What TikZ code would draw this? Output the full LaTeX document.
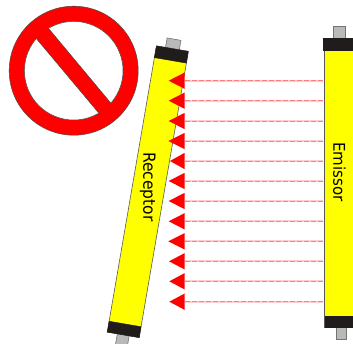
\documentclass[tikz,border=0pt]{standalone}
\usepackage{fontspec}
\setmainfont{DejaVu Sans}
\definecolor{bodyyellow}{RGB}{255,255,0}
\definecolor{capblack}{RGB}{32,28,28}
\definecolor{plug}{RGB}{185,185,185}
\definecolor{beamdash}{RGB}{255,125,125}
\definecolor{beampale}{RGB}{255,205,205}
\tikzset{
  housing/.style={fill=bodyyellow,draw=black!65,line width=0.6pt},
  capend/.style={fill=capblack,draw=capblack,line width=0.4pt},
  plugend/.style={fill=plug,draw=black!55,line width=0.6pt},
  beamglow/.style={draw=beampale,line width=1.8pt},
  beam/.style={draw=beamdash,line width=0.9pt,dash pattern=on 5pt off 2pt},
  beamhead/.style={fill=red,draw=none},
  devlabel/.style={font=\fontsize{15}{15}\selectfont,text=black,inner sep=0pt},
  signred/.style={fill=red,draw=black!70,line width=0.5pt},
  signhole/.style={fill=white,draw=black!70,line width=0.5pt},
  signedge/.style={draw=black!70,line width=0.5pt}
}
\begin{document}
\begin{tikzpicture}[x=1pt,y=-1pt]
\useasboundingbox (0,0) rectangle (353,344);
\clip (0,0) rectangle (353,344);
\fill[white] (0,0) rectangle (353,344);
% prohibition sign
\begin{scope}[shift={(73.7,70.7)}]
  \path[signred] (0,0) circle (64.5pt);
  \path[signhole] (0,0) circle (49.3pt);
  \fill[red] (-41,-36.5) -- (-28.7,-46.5) -- (41.3,37.4) -- (29.3,47.4) -- cycle;
  \draw[signedge] (-37,-31.7) -- (25.3,42.6);
  \draw[signedge] (-24.7,-41.7) -- (37.3,32.6);
\end{scope}
% receptor
\begin{scope}[shift={(172,51)},rotate=-9.75]
  \draw[plugend] (-7,-12) rectangle (7,0);
  \draw[plugend] (-6,282) rectangle (6,305);
  \draw[housing] (-16.2,0) rectangle (16.2,288);
  \fill[capend] (-16.2,-2.5) rectangle (16.2,9.5);
  \fill[capend] (-16.2,277) rectangle (16.2,288);
  \node[devlabel,rotate=-90,yscale=1.08] (rx) at (-1,138) {\fontsize{15.5}{15.5}\selectfont Receptor};
\end{scope}
% beams
\foreach \yy/\tip in {80.7/168.7,100.7/168.7,121/168.7,141/168.3,161/170,181/168.7,201/168.7,221.3/168.7,241.3/168.3,261.3/169,281.3/169.3,301.7/169.3}{
  \coordinate (src) at (323,\yy);
  \coordinate (base) at (184.7,\yy);
  \coordinate (tipc) at (\tip,\yy);
  \draw[beamglow] (src) -- (base);
  \draw[beam] (src) -- (base);
  \fill[beamhead] (tipc) -- (184.7,\yy-8.2) -- (184.7,\yy+8.2) -- cycle;
}
% emissor
\draw[plugend] (333.5,26.5) rectangle (345,39);
\draw[plugend] (335.8,326) rectangle (346,339);
\draw[housing] (324,38.5) rectangle (360,327);
\fill[capend] (323.2,38.5) rectangle (360,50);
\fill[capend] (325.5,316) rectangle (360,327);
\node[devlabel,rotate=-90,yscale=1.08] (tx) at (339.5,172) {Emissor};
\end{tikzpicture}
\end{document}
